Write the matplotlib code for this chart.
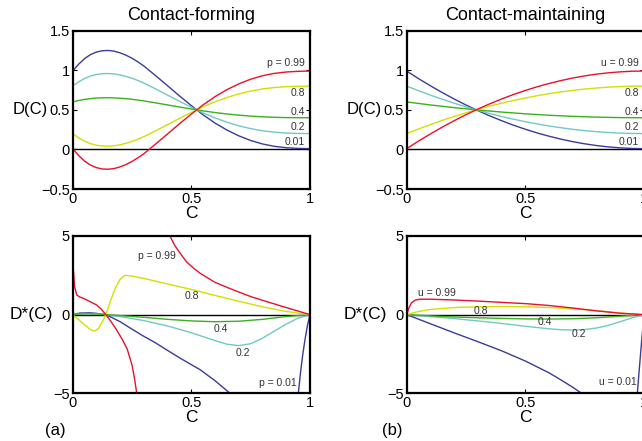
import matplotlib.pyplot as plt

plt.rcParams['font.family'] = ['Liberation Sans', 'DejaVu Sans']

# ---------- valeurs ----------
grille_cf = [0, 0.025, 0.05, 0.075, 0.1, 0.125, 0.15, 0.175, 0.2, 0.225, 0.25, 0.275, 0.3,
             0.35, 0.4, 0.45, 0.5, 0.55, 0.6, 0.65, 0.7, 0.75, 0.8, 0.85, 0.9, 0.95, 1.0]
grille_cm = [0, 0.05, 0.1, 0.15, 0.2, 0.25, 0.3, 0.35, 0.4, 0.45, 0.5,
             0.55, 0.6, 0.65, 0.7, 0.75, 0.8, 0.85, 0.9, 0.95, 1.0]

# Contact-forming, D(C)
cf_099 = [0.01, -0.076, -0.147, -0.198, -0.230, -0.247, -0.250, -0.241, -0.220, -0.190, -0.152,
          -0.106, -0.054, 0.069, 0.196, 0.324, 0.446, 0.564, 0.667, 0.755, 0.828, 0.887,
          0.931, 0.961, 0.978, 0.987, 0.99]
cf_08 = [0.2, 0.147, 0.104, 0.073, 0.053, 0.043, 0.041, 0.046, 0.059, 0.078, 0.101,
         0.129, 0.161, 0.236, 0.314, 0.392, 0.467, 0.539, 0.602, 0.656, 0.701, 0.737,
         0.764, 0.782, 0.793, 0.798, 0.8]
cf_04 = [0.6, 0.618, 0.632, 0.642, 0.649, 0.652, 0.653, 0.651, 0.647, 0.641, 0.633,
         0.624, 0.613, 0.588, 0.562, 0.536, 0.511, 0.487, 0.466, 0.448, 0.433, 0.421,
         0.412, 0.406, 0.402, 0.401, 0.4]
cf_02 = [0.8, 0.853, 0.896, 0.927, 0.947, 0.957, 0.959, 0.954, 0.941, 0.922, 0.899,
         0.871, 0.839, 0.764, 0.686, 0.608, 0.533, 0.461, 0.398, 0.344, 0.299, 0.263,
         0.236, 0.218, 0.207, 0.202, 0.2]
cf_001 = [0.99, 1.076, 1.147, 1.198, 1.230, 1.247, 1.250, 1.241, 1.220, 1.190, 1.152,
          1.106, 1.054, 0.931, 0.804, 0.676, 0.554, 0.436, 0.333, 0.245, 0.172, 0.113,
          0.069, 0.039, 0.022, 0.013, 0.01]

# Contact-maintaining, D(C)
cm_099 = [0.01, 0.106, 0.196, 0.282, 0.363, 0.439, 0.510, 0.576, 0.637, 0.694, 0.745,
          0.792, 0.833, 0.870, 0.902, 0.929, 0.951, 0.968, 0.980, 0.988, 0.99]
cm_08 = [0.2, 0.259, 0.314, 0.367, 0.416, 0.463, 0.506, 0.547, 0.584, 0.619, 0.65,
         0.679, 0.704, 0.727, 0.746, 0.763, 0.776, 0.787, 0.794, 0.799, 0.8]
cm_04 = [0.6, 0.581, 0.562, 0.545, 0.528, 0.513, 0.498, 0.485, 0.472, 0.461, 0.45,
         0.441, 0.432, 0.425, 0.418, 0.413, 0.408, 0.405, 0.402, 0.401, 0.4]
cm_02 = [0.8, 0.742, 0.686, 0.634, 0.584, 0.538, 0.494, 0.454, 0.416, 0.382, 0.35,
         0.322, 0.296, 0.274, 0.254, 0.238, 0.224, 0.214, 0.206, 0.202, 0.2]
cm_001 = [0.99, 0.894, 0.804, 0.718, 0.637, 0.561, 0.490, 0.424, 0.363, 0.306, 0.255,
          0.208, 0.167, 0.130, 0.098, 0.071, 0.049, 0.032, 0.020, 0.012, 0.01]

# Contact-forming, D*(C)
cfs_099_c1 = [0.0, 0.001, 0.003, 0.008, 0.017, 0.03, 0.045, 0.07, 0.1, 0.12, 0.14,
              0.16, 0.185, 0.21, 0.23, 0.25, 0.26, 0.27, 0.275]
cfs_099_y1 = [-3.4, 0.5, 2.84, 1.8, 1.25, 1.12, 1.04, 0.85, 0.62, 0.35, 0.0,
              -0.4, -0.97, -1.6, -2.2, -3.2, -4.0, -5.0, -5.5]
cfs_099_c2 = [0.405, 0.41, 0.43, 0.453, 0.48, 0.51, 0.537, 0.6, 0.677, 0.75, 0.817, 0.9, 0.958, 1.0]
cfs_099_y2 = [5.5, 5.0, 4.4, 3.9, 3.35, 2.95, 2.63, 2.05, 1.57, 1.15, 0.83, 0.45, 0.19, 0.0]
cfs_08_c = [0, 0.02, 0.05, 0.075, 0.094, 0.11, 0.125, 0.14, 0.16, 0.18, 0.2, 0.22, 0.25,
            0.3, 0.4, 0.5, 0.6, 0.7, 0.8, 0.9, 1.0]
cfs_08_y = [0, -0.25, -0.65, -0.95, -1.04, -0.85, -0.45, 0.0, 0.9, 1.7, 2.25, 2.5, 2.45,
            2.3, 1.95, 1.6, 1.22, 0.85, 0.5, 0.2, 0.0]
cfs_04_c = [0, 0.05, 0.1, 0.14, 0.2, 0.3, 0.4, 0.5, 0.6, 0.7, 0.8, 0.9, 1.0]
cfs_04_y = [0, 0.05, 0.04, 0.0, -0.06, -0.17, -0.3, -0.4, -0.45, -0.42, -0.3, -0.12, 0]
cfs_02_c = [0, 0.05, 0.1, 0.14, 0.2, 0.3, 0.4, 0.5, 0.6, 0.65, 0.7, 0.75, 0.8, 0.85,
            0.9, 0.95, 1.0]
cfs_02_y = [0, 0.08, 0.06, 0.0, -0.12, -0.38, -0.72, -1.15, -1.65, -1.88, -1.97, -1.85,
            -1.5, -1.05, -0.6, -0.22, 0]
cfs_001_c1 = [0, 0.03, 0.07, 0.1, 0.14, 0.2, 0.255, 0.3, 0.35, 0.396, 0.45, 0.5, 0.537,
              0.6, 0.663, 0.68]
cfs_001_y1 = [0, 0.1, 0.12, 0.08, 0.0, -0.45, -0.97, -1.38, -1.8, -2.24, -2.74, -3.18,
              -3.5, -4.2, -5.0, -5.3]
cfs_001_c2 = [0.948, 0.951, 0.96, 0.97, 0.98, 0.99, 1.0]
cfs_001_y2 = [-5.5, -5, -3.7, -2.5, -1.5, -0.65, 0]

# Contact-maintaining, D*(C)
cms_099_c = [0, 0.01, 0.02, 0.035, 0.056, 0.1, 0.2, 0.3, 0.4, 0.5, 0.6, 0.7, 0.8, 0.9, 1.0]
cms_099_y = [0, 0.45, 0.75, 0.92, 0.98, 0.98, 0.93, 0.86, 0.78, 0.7, 0.58, 0.42, 0.24, 0.09, 0]
cms_08_c = [0, 0.05, 0.1, 0.2, 0.3, 0.4, 0.5, 0.6, 0.7, 0.8, 0.9, 1.0]
cms_08_y = [0, 0.2, 0.33, 0.45, 0.5, 0.51, 0.5, 0.45, 0.37, 0.25, 0.1, 0]
cms_04_c = [0, 0.1, 0.2, 0.3, 0.4, 0.5, 0.6, 0.7, 0.8, 0.9, 1.0]
cms_04_y = [0, -0.08, -0.15, -0.2, -0.24, -0.27, -0.28, -0.26, -0.2, -0.1, 0]
cms_02_c = [0, 0.1, 0.2, 0.3, 0.4, 0.5, 0.6, 0.65, 0.7, 0.75, 0.8, 0.85, 0.9, 0.95, 1.0]
cms_02_y = [0, -0.12, -0.25, -0.4, -0.56, -0.74, -0.9, -0.96, -0.98, -0.95, -0.85,
            -0.68, -0.45, -0.2, 0]
cms_001_c1 = [0, 0.1, 0.2, 0.3, 0.4, 0.5, 0.6, 0.65, 0.7, 0.737, 0.75]
cms_001_y1 = [0, -0.58, -1.16, -1.72, -2.3, -2.95, -3.7, -4.15, -4.62, -5.0, -5.2]
cms_001_c2 = [0.97, 0.972, 0.98, 0.99, 1.0]
cms_001_y2 = [-5.3, -5, -3.5, -1.7, 0]

ROUGE = '#e8102e'
JAUNE = '#d2e000'
VERT = '#3cb01e'
CYAN = '#72c8c2'
BLEU = '#3b3b98'
GRIS = '#333333'

fig = plt.figure(figsize=(6.42, 4.41), dpi=100)
ax_tl = fig.add_axes([0.1132, 0.5714, 0.3696, 0.359])
ax_tr = fig.add_axes([0.6335, 0.5714, 0.3696, 0.359])
ax_bl = fig.add_axes([0.1132, 0.1082, 0.3696, 0.3567])
ax_br = fig.add_axes([0.6335, 0.1082, 0.3696, 0.3567])


def habiller(ax, haut):
    ax.set_xlim(0, 1)
    ax.set_xticks([0, 0.5, 1])
    ax.set_xticklabels(['0', '0.5', '1'])
    if haut:
        ax.set_ylim(-0.5, 1.5)
        ax.set_yticks([-0.5, 0, 0.5, 1, 1.5])
        ax.set_yticklabels(['\u22120.5', '0', '0.5', '1', '1.5'])
        ax.set_ylabel('D(C)', fontsize=12, rotation=0, ha='right', va='center')
        ax.yaxis.set_label_coords(-0.103, 0.5)
    else:
        ax.set_ylim(-5, 5)
        ax.set_yticks([-5, 0, 5])
        ax.set_yticklabels(['\u22125', '0', '5'])
        ax.set_ylabel('D*(C)', fontsize=12.5, rotation=0, ha='right', va='center')
        ax.yaxis.set_label_coords(-0.085, 0.5)
    ax.set_xlabel('C', fontsize=12.5, labelpad=0)
    ax.tick_params(direction='in', length=3, width=0.8, top=True, right=True,
                   labelsize=10.5, pad=2)
    for s in ax.spines.values():
        s.set_linewidth(1.6)
    ax.axhline(0, color='black', lw=1.0, zorder=1)


# --- haut gauche ---
for y, col in [(cf_001, BLEU), (cf_02, CYAN), (cf_04, VERT), (cf_08, JAUNE), (cf_099, ROUGE)]:
    ax_tl.plot(grille_cf, y, color=col, lw=1.0)
habiller(ax_tl, True)
ax_tl.set_title('Contact-forming', fontsize=13, pad=8)

# --- haut droite ---
for y, col in [(cm_001, BLEU), (cm_02, CYAN), (cm_04, VERT), (cm_08, JAUNE), (cm_099, ROUGE)]:
    ax_tr.plot(grille_cm, y, color=col, lw=1.0)
habiller(ax_tr, True)
ax_tr.set_title('Contact-maintaining', fontsize=13, pad=8)

# étiquettes des courbes (haut)
for ax, prefixe in [(ax_tl, 'p = '), (ax_tr, 'u = ')]:
    ax.text(0.978, 1.09, prefixe + '0.99', fontsize=7.5, color=GRIS, ha='right', va='center')
    ax.text(0.978, 0.71, '0.8', fontsize=7.5, color=GRIS, ha='right', va='center')
    ax.text(0.978, 0.47, '0.4', fontsize=7.5, color=GRIS, ha='right', va='center')
    ax.text(0.978, 0.28, '0.2', fontsize=7.5, color=GRIS, ha='right', va='center')
    ax.text(0.978, 0.09, '0.01', fontsize=7.5, color=GRIS, ha='right', va='center')

# --- bas gauche ---
ax_bl.plot(cfs_001_c1, cfs_001_y1, color=BLEU, lw=1.0)
ax_bl.plot(cfs_001_c2, cfs_001_y2, color=BLEU, lw=1.0)
ax_bl.plot(cfs_02_c, cfs_02_y, color=CYAN, lw=1.0)
ax_bl.plot(cfs_04_c, cfs_04_y, color=VERT, lw=1.0)
ax_bl.plot(cfs_08_c, cfs_08_y, color=JAUNE, lw=1.0)
ax_bl.plot(cfs_099_c1, cfs_099_y1, color=ROUGE, lw=1.0)
ax_bl.plot(cfs_099_c2, cfs_099_y2, color=ROUGE, lw=1.0)
habiller(ax_bl, False)
ax_bl.text(0.355, 3.73, 'p = 0.99', fontsize=7.5, color=GRIS, ha='center', va='center')
ax_bl.text(0.503, 1.19, '0.8', fontsize=7.5, color=GRIS, ha='center', va='center')
ax_bl.text(0.624, -0.91, '0.4', fontsize=7.5, color=GRIS, ha='center', va='center')
ax_bl.text(0.718, -2.41, '0.2', fontsize=7.5, color=GRIS, ha='center', va='center')
ax_bl.text(0.864, -4.36, 'p = 0.01', fontsize=7.5, color=GRIS, ha='center', va='center')

# --- bas droite ---
ax_br.plot(cms_001_c1, cms_001_y1, color=BLEU, lw=1.0)
ax_br.plot(cms_001_c2, cms_001_y2, color=BLEU, lw=1.0)
ax_br.plot(cms_02_c, cms_02_y, color=CYAN, lw=1.0)
ax_br.plot(cms_04_c, cms_04_y, color=VERT, lw=1.0)
ax_br.plot(cms_08_c, cms_08_y, color=JAUNE, lw=1.0)
ax_br.plot(cms_099_c, cms_099_y, color=ROUGE, lw=1.0)
habiller(ax_br, False)
ax_br.text(0.128, 1.40, 'u = 0.99', fontsize=7.5, color=GRIS, ha='center', va='center')
ax_br.text(0.311, 0.25, '0.8', fontsize=7.5, color=GRIS, ha='center', va='center')
ax_br.text(0.581, -0.48, '0.4', fontsize=7.5, color=GRIS, ha='center', va='center')
ax_br.text(0.726, -1.25, '0.2', fontsize=7.5, color=GRIS, ha='center', va='center')
ax_br.text(0.888, -4.27, 'u = 0.01', fontsize=7.5, color=GRIS, ha='center', va='center')

fig.text(55 / 642, 1 - 430 / 441, '(a)', fontsize=12, ha='center', va='center')
fig.text(392 / 642, 1 - 430 / 441, '(b)', fontsize=12, ha='center', va='center')

fig.savefig('out.png', dpi=100)
